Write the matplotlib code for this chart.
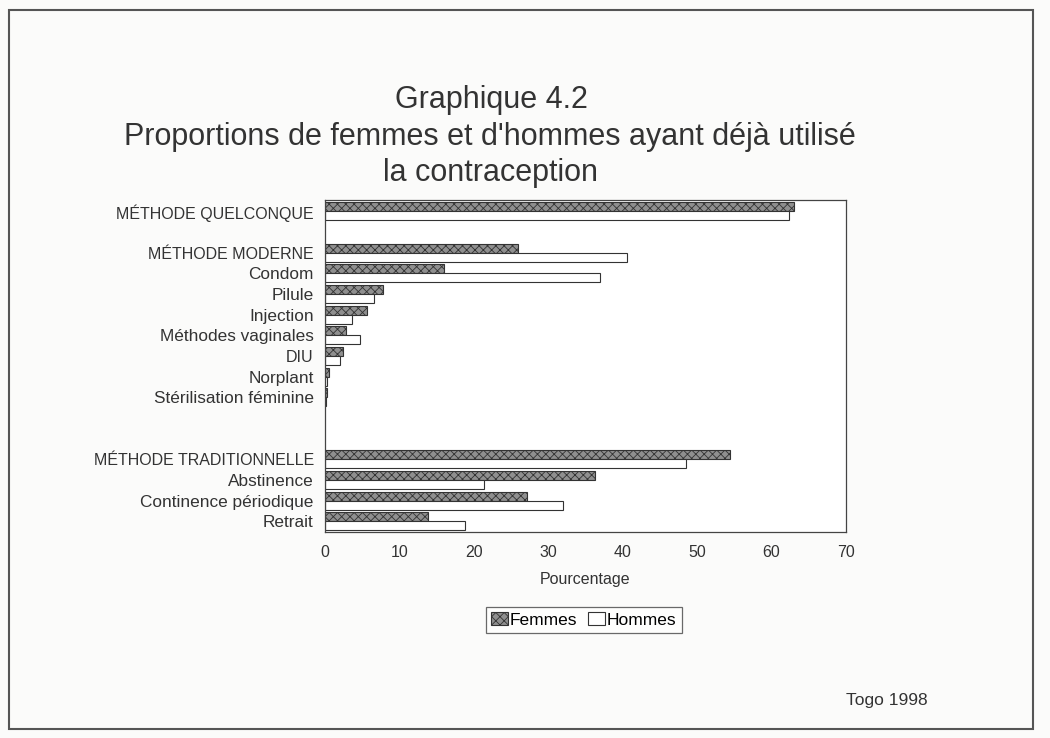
import matplotlib
matplotlib.use("Agg")
import matplotlib.pyplot as plt
import numpy as np
from matplotlib.patches import Rectangle

plt.rcParams['font.family'] = ['Liberation Sans', 'DejaVu Sans']
plt.rcParams['hatch.linewidth'] = 0.6

# data (percent)
categories = ["MÉTHODE QUELCONQUE", "MÉTHODE MODERNE", "Condom", "Pilule", "Injection",
              "Méthodes vaginales", "DIU", "Norplant", "Stérilisation féminine",
              "MÉTHODE TRADITIONNELLE", "Abstinence", "Continence périodique", "Retrait"]
rows = [0, 2, 3, 4, 5, 6, 7, 8, 9, 12, 13, 14, 15]
femmes = [63.0, 26.0, 16.0, 7.8, 5.7, 2.8, 2.4, 0.5, 0.3, 54.4, 36.3, 27.2, 13.8]
hommes = [62.3, 40.6, 36.9, 6.6, 3.6, 4.7, 2.0, 0.3, 0.1, 48.5, 21.3, 32.0, 18.8]
xticks = [0, 10, 20, 30, 40, 50, 60, 70]

fig = plt.figure(figsize=(10.5, 7.38), dpi=100)
fig.patch.set_facecolor('#fbfbfa')
fig.add_artist(Rectangle((0.009, 0.012), 0.975, 0.975, transform=fig.transFigure,
                         fill=False, edgecolor='#555555', linewidth=1.5))

ax = fig.add_axes([0.3095, 0.279, 0.4962, 0.45])
ax.set_facecolor('white')

y = np.array(rows, dtype=float)
h = 0.44
ax.barh(y - h / 2, femmes, height=h, color='#8f8f8f', edgecolor='#333333',
        hatch='xxxx', linewidth=0.8, label='Femmes')
ax.barh(y + h / 2, hommes, height=h, color='white', edgecolor='#333333',
        linewidth=0.8, label='Hommes')

ax.set_xlim(0, 70)
ax.set_ylim(15.52, -0.55)
ax.set_yticks(rows)
ax.set_yticklabels(categories, color='#333333')
for lab in ax.get_yticklabels():
    # upper-case group labels look narrower in the original
    lab.set_fontsize(11.5 if lab.get_text().isupper() else 12.4)
ax.set_xticks(xticks)
ax.set_xticklabels([str(t) for t in xticks], fontsize=11.5, color='#333333')
ax.tick_params(axis='both', length=0)
ax.tick_params(axis='x', pad=9)
ax.tick_params(axis='y', pad=8)
for s in ax.spines.values():
    s.set_color('#444444')
    s.set_linewidth(0.9)

ax.set_xlabel("Pourcentage", fontsize=11.5, color='#333333', labelpad=9)

title_kw = dict(ha='center', va='center', fontsize=22, color='#333333')
fig.text(0.468, 0.864, "Graphique 4.2", **title_kw)
fig.text(0.467, 0.815, "Proportions de femmes et d'hommes ayant déjà utilisé", **title_kw)
fig.text(0.467, 0.766, "la contraception", **title_kw)

leg = fig.legend(loc='center', bbox_to_anchor=(0.556, 0.16), ncol=2, fontsize=12.5,
                 frameon=True, fancybox=False, edgecolor='#444444', handlelength=1.0,
                 handleheight=0.8, handletextpad=0.1, columnspacing=0.6,
                 borderpad=0.3)
leg.get_frame().set_linewidth(0.9)

fig.text(0.845, 0.051, "Togo 1998", ha='center', va='center', fontsize=12.5, color='#333333')

fig.savefig("out.png", dpi=100, facecolor=fig.get_facecolor())
